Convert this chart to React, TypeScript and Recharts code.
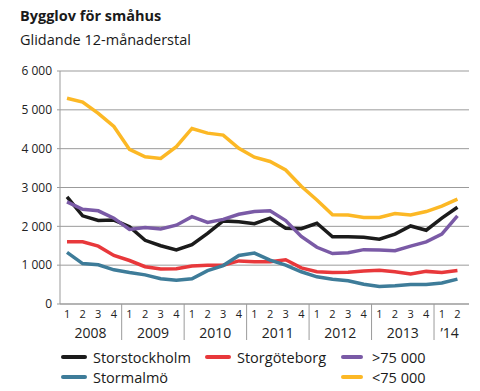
import { LineChart, Line, XAxis, YAxis, CartesianGrid } from 'recharts';

// quarterly values, 2008 Q1 .. 2014 Q2
const quarters = Array.from({ length: 26 }, (_, i) => i);
const years = ['2008', '2009', '2010', '2011', '2012', '2013', '\u201914'];

const storstockholm = [2760, 2270, 2150, 2160, 1990, 1640, 1500, 1390, 1530, 1820, 2140, 2120, 2070, 2210, 1950, 1940, 2080, 1730, 1730, 1720, 1670, 1800, 2010, 1900, 2210, 2490];
const storgoteborg = [1600, 1600, 1490, 1250, 1120, 960, 900, 910, 980, 1000, 1000, 1110, 1090, 1090, 1140, 930, 830, 810, 820, 850, 870, 830, 770, 840, 810, 860];
const over75 = [2630, 2440, 2400, 2210, 1920, 1970, 1930, 2030, 2250, 2100, 2180, 2310, 2380, 2400, 2150, 1740, 1460, 1300, 1320, 1400, 1390, 1370, 1490, 1600, 1800, 2270];
const stormalmo = [1330, 1040, 1010, 880, 810, 750, 650, 610, 650, 860, 990, 1250, 1310, 1130, 1000, 830, 700, 640, 600, 510, 450, 470, 500, 500, 540, 640];
const under75 = [5300, 5200, 4910, 4570, 3980, 3790, 3750, 4050, 4520, 4400, 4350, 4010, 3780, 3670, 3450, 3030, 2680, 2300, 2290, 2230, 2230, 2330, 2290, 2380, 2520, 2700];

const yTicks = [0, 1000, 2000, 3000, 4000, 5000, 6000];

const SERIES = [
  { key: 'storstockholm', name: 'Storstockholm', color: '#1b1b1b' },
  { key: 'storgoteborg', name: 'Storgöteborg', color: '#e8383b' },
  { key: 'over75', name: '>75 000', color: '#7a5aa6' },
  { key: 'stormalmo', name: 'Stormalmö', color: '#3e7c99' },
  { key: 'under75', name: '<75 000', color: '#fcb825' },
];

const data = quarters.map((i) => ({
  i,
  storstockholm: storstockholm[i],
  storgoteborg: storgoteborg[i],
  over75: over75[i],
  stormalmo: stormalmo[i],
  under75: under75[i],
}));

const FONT = '"Open Sans", "DejaVu Sans", sans-serif';
const GRID = '#9b9b9b';

const X_DOMAIN: [number, number] = [-0.45, 25.74];
const PLOT_W = 480 - 60 - 11;
const STEP = PLOT_W / (X_DOMAIN[1] - X_DOMAIN[0]);

const fmt = (v: number) => (v === 0 ? '0' : `${Math.floor(v / 1000)} ${String(v % 1000).padStart(3, '0')}`);

function QuarterTick(props: any) {
  const { x, y, payload } = props;
  const i = payload.value as number;
  const q = (i % 4) + 1;
  const yearIdx = Math.floor(i / 4);
  const qInYear = yearIdx === 6 ? 2 : 4;
  return (
    <g>
      <text x={x} y={y + 14} textAnchor="middle" fontSize={11} fill="#222" fontFamily={FONT}>
        {q}
      </text>
      {q === 1 && (
        <>
          {i > 0 && <line x1={x - STEP / 2} x2={x - STEP / 2} y1={y} y2={y + 36} stroke={GRID} strokeWidth={1} />}
          <text
            x={x + ((qInYear - 1) * STEP) / 2}
            y={y + 34}
            textAnchor="middle"
            fontSize={14}
            fill="#222"
            fontFamily={FONT}
          >
            {years[yearIdx]}
          </text>
        </>
      )}
    </g>
  );
}

const legendCols = [61, 205, 341];

export default function App() {
  return (
    <div style={{ position: 'absolute', left: 0, top: 0, width: 480, height: 391, background: '#fff', fontFamily: FONT }}>
      <div style={{ position: 'absolute', left: 20, top: 6, fontSize: 14.5, fontWeight: 700, color: '#1a1a1a' }}>
        Bygglov för småhus
      </div>
      <div style={{ position: 'absolute', left: 20, top: 30, fontSize: 14.5, color: '#1a1a1a' }}>
        Glidande 12-månaderstal
      </div>
      <div style={{ position: 'absolute', left: 0, top: 0 }}>
        <LineChart width={480} height={391} data={data} margin={{ top: 71, right: 11, bottom: 47, left: 5 }}>
          <CartesianGrid vertical={false} stroke={GRID} strokeWidth={1} />
          <XAxis
            type="number"
            dataKey="i"
            domain={X_DOMAIN}
            ticks={quarters}
            interval={0}
            tick={<QuarterTick />}
            tickSize={0}
            tickMargin={0}
            tickLine={false}
            axisLine={{ stroke: GRID }}
            height={40}
          />
          <YAxis
            domain={[0, 6000]}
            ticks={yTicks}
            tickFormatter={fmt}
            width={55}
            tickSize={3}
            tickMargin={5}
            tickLine={{ stroke: GRID }}
            axisLine={{ stroke: GRID }}
            tick={{ fontSize: 12, fill: '#222', fontFamily: FONT }}
          />
          {SERIES.map((s) => (
            <Line
              key={s.key}
              dataKey={s.key}
              name={s.name}
              stroke={s.color}
              strokeWidth={3.5}
              dot={false}
              type="linear"
              isAnimationActive={false}
            />
          ))}
        </LineChart>
      </div>
      {SERIES.map((s, idx) => {
        const row = idx < 3 ? 0 : 1;
        const col = idx < 3 ? idx : idx === 3 ? 0 : 2;
        return (
          <div
            key={s.key}
            style={{
              position: 'absolute',
              left: legendCols[col],
              top: 347 + row * 20,
              height: 20,
              display: 'flex',
              alignItems: 'center',
              fontSize: 14.5,
              color: '#1a1a1a',
            }}
          >
            <span style={{ display: 'inline-block', width: col === 2 ? 22 : 26, height: 4, borderRadius: 2, background: s.color, marginRight: col === 2 ? 9 : 6 }} />
            {s.name}
          </div>
        );
      })}
    </div>
  );
}
